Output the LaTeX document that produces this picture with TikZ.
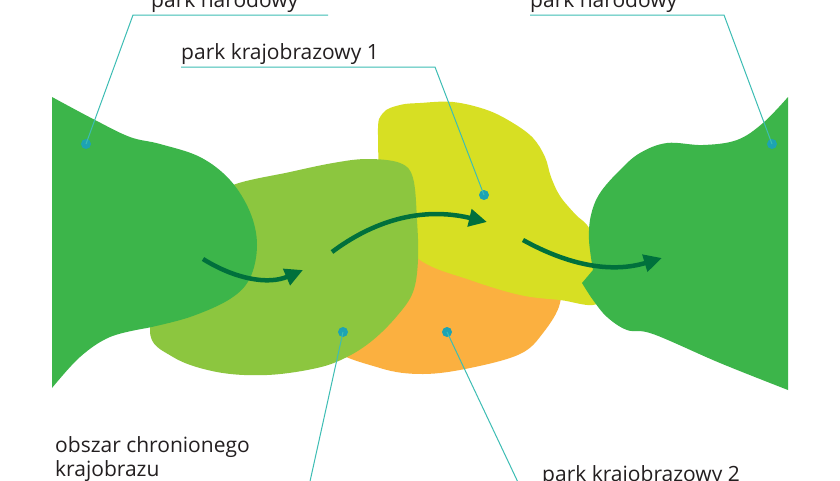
\documentclass[tikz,border=0pt]{standalone}
\usepackage{fontspec}
\setmainfont{Open Sans}
\usetikzlibrary{arrows.meta}
\definecolor{dgreen}{HTML}{3CB54A}
\definecolor{lgreen}{HTML}{8CC63F}
\definecolor{yel}{HTML}{D7DF23}
\definecolor{ora}{HTML}{FBB040}
\definecolor{arr}{HTML}{00703C}
\definecolor{lead}{HTML}{3DBDB4}
\definecolor{dotc}{HTML}{1DA3B3}
\definecolor{txt}{HTML}{231F20}
\begin{document}
\begin{tikzpicture}[x=1pt,y=-1pt,
  lbl/.style={anchor=base west, inner sep=0pt, text=txt, font=\fontsize{21}{24}\selectfont, align=left},
  leader/.style={draw=lead, line width=1pt},
  pin/.style={circle, fill=dotc, inner sep=0pt, minimum size=10pt},
  flow/.style={draw=arr, line width=4.5pt, -{Triangle[length=18pt,width=17pt]}},
  ]
\useasboundingbox (0,0) rectangle (840,480);
\clip (0,0) rectangle (840,480);
\fill[white] (0,0) rectangle (840,480);

% orange (park krajobrazowy 2)
\fill[ora] plot[smooth cycle, tension=0.6] coordinates {(330,345) (380,368) (423,374) (470,368) (520,354) (543,333) (560,303) (555,275) (500,260) (420,250) (350,300)};
% yellow (park krajobrazowy 1)
\fill[yel] plot[smooth cycle, tension=0.6] coordinates {(378,135) (383,113) (400,105) (420,103) (453,102) (487,110) (513,123) (533,138) (545,157) (551,177) (560,196) (575,214) (590,230) (597,265) (598,303) (560,300) (520,295) (470,280) (420,260) (385,220)};
% light green (obszar chronionego krajobrazu)
\fill[lgreen] plot[smooth cycle, tension=0.6] coordinates {(233,185) (290,172) (333,163) (367,159) (400,163) (413,178) (417,220) (418,260) (413,292) (397,316) (373,340) (347,357) (317,368) (267,375) (217,372) (173,357) (150,330) (175,260) (205,205)};
% left national park
\fill[dgreen] (52,388) -- (52,97) -- plot[smooth, tension=0.6] coordinates {(52,97) (95,120) (130,137) (160,144) (200,157) (230,180) (250,212) (257,245) (250,278) (230,299) (190,317) (147,328)} -- plot[smooth, tension=0.6] coordinates {(147,328) (110,337) (80,357) (52,388)} -- cycle;
% right national park
\fill[dgreen] (788,390) -- (788,97) -- plot[smooth, tension=0.6] coordinates {(788,97) (763,123) (737,140) (703,145) (667,143) (640,153) (620,170) (600,193) (591,215) (589,240) (593,270)} -- (582,283) -- plot[smooth, tension=0.6] coordinates {(582,283) (593,300) (607,317) (627,330) (653,334) (720,363) (788,390)} -- cycle;

% arrows
\coordinate (a1s) at (203,259); \coordinate (a1e) at (303,270);
\coordinate (a2s) at (332,252); \coordinate (a2e) at (487,222);
\coordinate (a3s) at (523,240); \coordinate (a3e) at (662,258);
\draw[flow] (a1s) .. controls (235,279) and (268,285) .. (a1e);
\draw[flow] (a2s) .. controls (372,222) and (420,206) .. (a2e);
\draw[flow] (a3s) .. controls (570,266) and (612,273) .. (a3e);

% pins
\node[pin] (p1) at (86,144) {};
\node[pin] (p2) at (772,144) {};
\node[pin] (p3) at (484,195) {};
\node[pin] (p4) at (343,332) {};
\node[pin] (p5) at (447,332) {};

% labels
\node[lbl] (t1) at (151,7) {park narodowy};
\node[lbl] (t2) at (530,7) {park narodowy};
\node[lbl] (t3) at (181,59) {park krajobrazowy 1};
\node[lbl] (t4) at (55,476) {obszar chronionego\\krajobrazu};
\node[lbl] (t5) at (542,481) {park krajobrazowy 2};

% leader lines
\coordinate (c1a) at (133,15); \coordinate (c1b) at (328,15);
\coordinate (c2a) at (724,15); \coordinate (c2b) at (530,15);
\coordinate (c3a) at (435,67); \coordinate (c3b) at (181,67);
\coordinate (c4a) at (307,495);
\coordinate (c5a) at (524,495);
\draw[leader] (p1.center) -- (c1a) -- (c1b);
\draw[leader] (p2.center) -- (c2a) -- (c2b);
\draw[leader] (p3.center) -- (c3a) -- (c3b);
\draw[leader] (p4.center) -- (c4a);
\draw[leader] (p5.center) -- (c5a);
\end{tikzpicture}
\end{document}
